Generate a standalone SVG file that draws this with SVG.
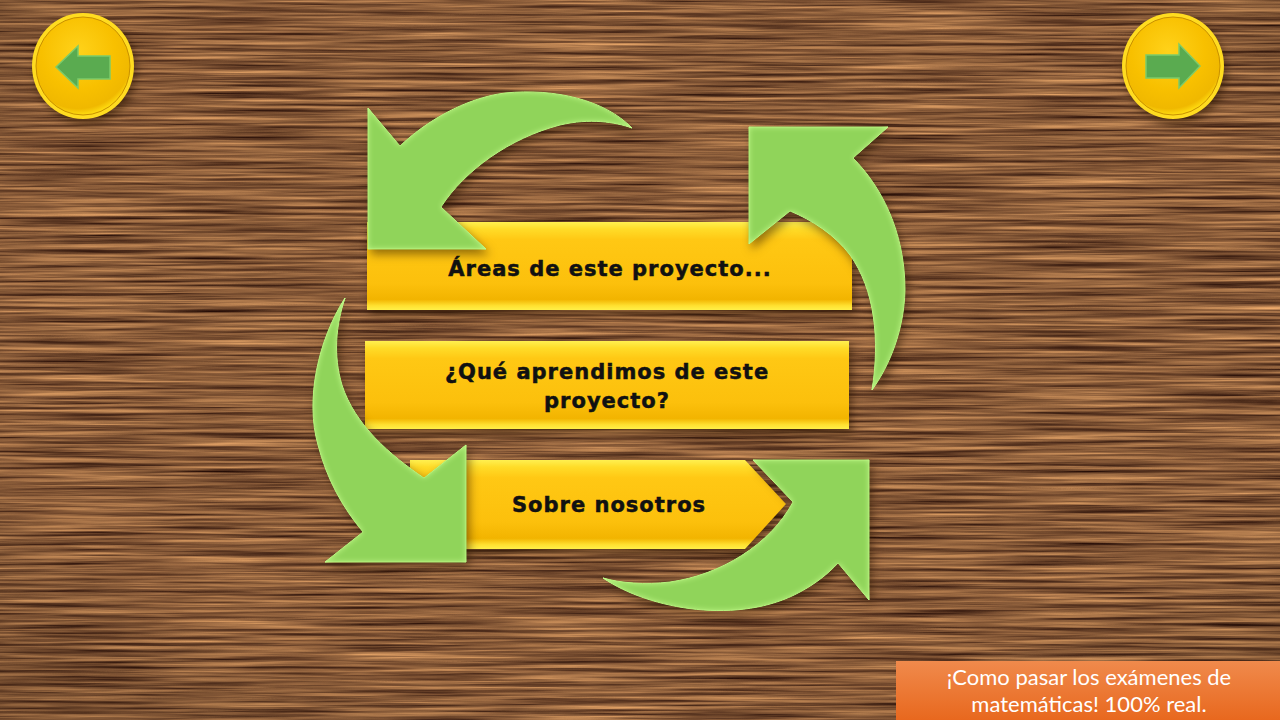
<svg xmlns="http://www.w3.org/2000/svg" width="1280" height="720" viewBox="0 0 1280 720">
<defs>
<filter id="wood" x="0" y="0" width="1280" height="720" filterUnits="userSpaceOnUse" color-interpolation-filters="sRGB">
<feTurbulence type="fractalNoise" baseFrequency="0.006 0.3" numOctaves="4" seed="7" result="n"/>
<feColorMatrix in="n" type="matrix" values="0.95 0 0 0 0.06  0.75 0 0 0 -0.02  0.48 0 0 0 -0.02  0 0 0 0 1"/>
</filter>
<radialGradient id="vig" cx="0.5" cy="0.45" r="0.75">
<stop offset="0" stop-color="#c08050" stop-opacity="0.1"/>
<stop offset="0.7" stop-color="#000" stop-opacity="0"/>
<stop offset="1" stop-color="#1a0a00" stop-opacity="0.2"/>
</radialGradient>
<linearGradient id="gold" x1="0" y1="0" x2="0" y2="1">
<stop offset="0" stop-color="#fff050"/>
<stop offset="0.08" stop-color="#ffdc28"/>
<stop offset="0.2" stop-color="#ffc814"/>
<stop offset="0.7" stop-color="#fcc00c"/>
<stop offset="0.88" stop-color="#f2b400"/>
<stop offset="0.95" stop-color="#ffe030"/>
<stop offset="1" stop-color="#fff048"/>
</linearGradient>
<linearGradient id="orange" x1="0" y1="0" x2="0" y2="1">
<stop offset="0" stop-color="#f08a4c"/>
<stop offset="1" stop-color="#e8681e"/>
</linearGradient>
<radialGradient id="coin" cx="0.45" cy="0.35" r="0.65">
<stop offset="0" stop-color="#ffd21a"/>
<stop offset="0.6" stop-color="#f8c000"/>
<stop offset="0.9" stop-color="#f0b800"/>
<stop offset="1" stop-color="#ffdc10"/>
</radialGradient>
<filter id="shadow" x="-20%" y="-20%" width="140%" height="150%" color-interpolation-filters="sRGB">
<feDropShadow dx="3" dy="5" stdDeviation="5" flood-color="#2a1400" flood-opacity="0.55"/>
</filter>
<filter id="bevel" x="-20%" y="-20%" width="140%" height="150%" color-interpolation-filters="sRGB">
<feGaussianBlur in="SourceAlpha" stdDeviation="3" result="b"/>
<feComposite in="SourceAlpha" in2="b" operator="arithmetic" k2="1" k3="-1" result="edge"/>
<feFlood flood-color="#c8ff90" result="c"/>
<feComposite in="c" in2="edge" operator="in" result="glow"/>
<feMerge result="m"><feMergeNode in="SourceGraphic"/><feMergeNode in="glow"/></feMerge>
<feDropShadow in="m" dx="3" dy="5" stdDeviation="5" flood-color="#2a1400" flood-opacity="0.5"/>
</filter>
<style>
.box{fill:url(#gold);filter:url(#shadow);}
.lbl{font-family:"DejaVu Sans",sans-serif;font-weight:bold;font-size:21px;letter-spacing:1px;fill:#111;stroke:#111;stroke-width:0.5;text-anchor:middle;}
.arr{fill:#90d45a;stroke:#a8e870;stroke-width:1;filter:url(#bevel);}
.ico{fill:#5aab50;stroke:#7ccc6a;stroke-width:1.5;}
.foot{font-family:Lato,"Open Sans",sans-serif;font-size:22px;fill:#fff;text-anchor:middle;}
</style>
</defs>
<rect x="0" y="0" width="1280" height="720" fill="#8a5a36" filter="url(#wood)"/>
<rect x="0" y="0" width="1280" height="720" fill="url(#vig)"/>

<g id="btn-prev">
<ellipse cx="83" cy="66" rx="51" ry="53" fill="#ffdc20" filter="url(#shadow)"/>
<ellipse cx="83" cy="66" rx="47" ry="49" fill="url(#coin)" stroke="#c89000" stroke-width="1"/>
<path class="ico" d="M56,67 L78,46 L78,56 L110,56 L110,79 L78,79 L78,88 Z"/>
</g>
<g id="btn-next">
<ellipse cx="1173" cy="66" rx="51" ry="53" fill="#ffdc20" filter="url(#shadow)"/>
<ellipse cx="1173" cy="66" rx="47" ry="49" fill="url(#coin)" stroke="#c89000" stroke-width="1"/>
<path class="ico" d="M1200,66 L1179,44 L1179,55 L1146,55 L1146,78 L1179,78 L1179,88 Z"/>
</g>

<g id="box-areas">
<rect class="box" x="367" y="222" width="485" height="88"/>
<text class="lbl" x="610" y="276">Áreas de este proyecto...</text>
</g>
<g id="box-aprendimos">
<rect class="box" x="365" y="341" width="484" height="88"/>
<text class="lbl" x="607" y="379">¿Qué aprendimos de este</text>
<text class="lbl" x="607" y="408">proyecto?</text>
</g>
<g id="box-nosotros">
<path class="box" d="M410,460 L745,460 L786,504 L745,549 L410,549 Z"/>
<text class="lbl" x="609" y="512">Sobre nosotros</text>
</g>

<g id="connectors">
<path class="arr" d="M632,128 C605,100 555,88 505,93 C465,98 425,122 400,146 L368,108 L368,249 L486,249 L441,207 C465,170 510,138 560,125 C590,118 615,122 632,128 Z"/>
<path class="arr" d="M853,158 C880,185 905,230 905,290 C904,330 890,365 872,390 C880,340 875,290 850,255 C835,235 812,220 790,211 L749,244 L749,127 L888,127 Z"/>
<path class="arr" d="M345,298 C318,340 305,400 318,445 C327,480 343,508 363,532 L325,562 L466,562 L466,445 L424,478 C390,455 355,425 342,385 C333,355 336,325 345,298 Z"/>
<path class="arr" d="M603,578 C650,610 740,625 800,592 C815,584 828,574 838,563 L869,600 L869,460 L753,460 L793,502 C770,545 720,575 670,582 C645,585 620,583 603,578 Z"/>
</g>

<g id="footer">
<rect x="896" y="661" width="384" height="59" fill="url(#orange)"/>
<text class="foot" x="1089" y="685">¡Como pasar los exámenes de</text>
<text class="foot" x="1089" y="712">matemáticas! 100% real.</text>
</g>
</svg>
